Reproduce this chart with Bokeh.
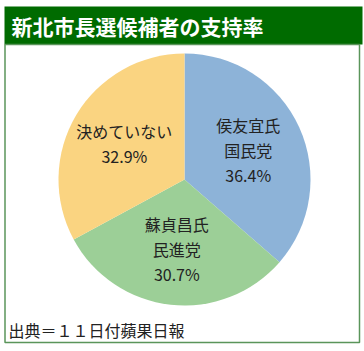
import math
from bokeh.plotting import figure
from bokeh.models import ColumnDataSource
from bokeh.core.properties import value
from bokeh.embed import file_html
from bokeh.resources import INLINE

# ---- data ----
title_text = "新北市長選候補者の支持率"
source_text = "出典＝１１日付蘋果日報"
candidates = ["侯友宜氏", "蘇貞昌氏", "決めていない"]
parties = ["国民党", "民進党", ""]
shares = [36.4, 30.7, 32.9]
colors = ["#8DB3D8", "#9CCF97", "#FAD481"]

W, H = 364, 351
FONT = "Noto Sans CJK JP"

p = figure(width=W, height=H, x_range=(0, W), y_range=(0, H),
           output_backend="svg", toolbar_location=None,
           x_axis_type=None, y_axis_type=None, min_border=0)
p.grid.visible = False
p.outline_line_color = None
p.background_fill_color = "white"
p.border_fill_color = "white"

def Y(y_img):
    return H - y_img

# title bar
p.quad(left=[4], right=[362], top=[Y(6)], bottom=[Y(44)],
       fill_color="#006B00", line_color=None)
p.text(x=[11], y=[Y(25)], text=[title_text], text_color="white",
       text_font=value(FONT), text_font_style="bold", text_font_size="21px",
       text_baseline="middle", text_align="left")

# frame
p.quad(left=[4.5], right=[359], top=[Y(44)], bottom=[Y(342)],
       fill_color=None, line_color="#5A955A", line_width=1.5)

# pie
cx, cy, R = 184, Y(179), 126
total = sum(shares)
starts, ends, mids = [], [], []
acc = 0.0
for s in shares:
    a0 = math.pi / 2 - 2 * math.pi * acc / total
    acc += s
    a1 = math.pi / 2 - 2 * math.pi * acc / total
    starts.append(a0)
    ends.append(a1)
    mids.append((a0 + a1) / 2)

src = ColumnDataSource(dict(start=starts, end=ends, color=colors))
p.wedge(x=cx, y=cy, radius=R, start_angle="start", end_angle="end",
        direction="clock", fill_color="color", line_color=None, source=src)

# labels
lr = 70
lh = 25
for name, party, sh, m in zip(candidates, parties, shares, mids):
    lines = [name] + ([party] if party else []) + [f"{sh:.1f}%"]
    lx = cx + lr * math.cos(m)
    ly = cy + lr * math.sin(m)
    n = len(lines)
    for i, t in enumerate(lines):
        yy = ly + (n - 1) / 2 * lh - i * lh
        p.text(x=[lx], y=[yy], text=[t], text_color="#222222",
               text_font=value(FONT), text_font_size="16px",
               text_baseline="middle", text_align="center")

# source
p.text(x=[8], y=[Y(329)], text=[source_text], text_color="#222222",
       text_font=value(FONT), text_font_size="16px",
       text_baseline="middle", text_align="left")

open("out.html", "w").write(file_html(p, INLINE))
